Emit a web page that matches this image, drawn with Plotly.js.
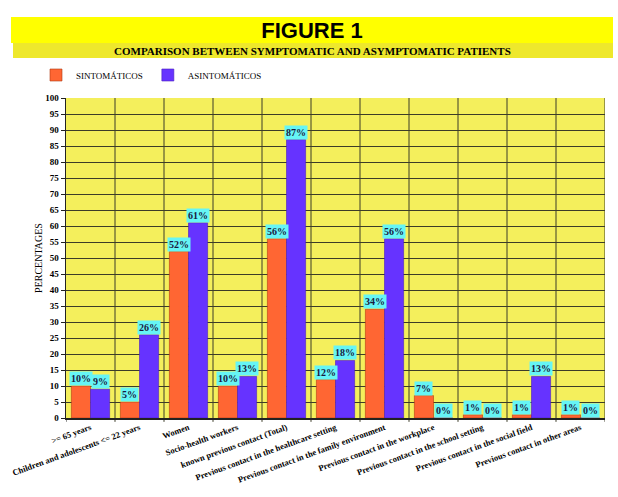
<!DOCTYPE html>
<html>
<head>
<meta charset="utf-8">
<script src="https://cdn.plot.ly/plotly-3.0.1.min.js"></script>
<style>html,body{margin:0;padding:0;background:#fff;}#chart{width:618px;height:497px;}</style>
</head>
<body>
<div id="chart"></div>
<script>
const categories = [
  ">= 65 years",
  "Children and adolescents <= 22 years",
  "Women",
  "Socio-health workers",
  "known previous contact (Total)",
  "Previous contact in the healthcare setting",
  "Previous contact in the family environment",
  "Previous contact in the workplace",
  "Previous contact in the school setting",
  "Previous contact in the social field",
  "Previous contact in other areas"
];
const sintomaticos = [10, 5, 52, 10, 56, 12, 34, 7, 1, 1, 1];
const asintomaticos = [9, 26, 61, 13, 87, 18, 56, 0, 0, 13, 0];
const seriesNames = ["SINTOMÁTICOS", "ASINTOMÁTICOS"];
const yTicks = [0,5,10,15,20,25,30,35,40,45,50,55,60,65,70,75,80,85,90,95,100];

const SERIF = "Liberation Serif, Times New Roman, serif";
const colors = ["#FF6633", "#6633FF"];
const bargap = 0.22;
const half = (1 - bargap) / 4;

const traces = [sintomaticos, asintomaticos].map((vals, k) => ({
  type: "bar",
  name: seriesNames[k],
  x: categories.map((c, i) => i),
  y: vals,
  marker: {color: colors[k], line: {color: k === 0 ? "#B03A10" : "#4A20C0", width: 0.6}},
  hoverinfo: "skip"
}));

const annotations = [];
[sintomaticos, asintomaticos].forEach((vals, k) => {
  vals.forEach((v, i) => {
    annotations.push({
      x: i + (k === 0 ? -half : half), y: v, xref: "x", yref: "y",
      text: "<b>" + v + "%</b>", showarrow: false, yanchor: "bottom", xanchor: "center",
      bgcolor: "#66F5F5", borderpad: 1,
      font: {family: SERIF, size: 10, color: "#1A1A40"}
    });
  });
});
annotations.push({
  x: (312 - 66) / 539, y: (418 - 50.5) / 320, xref: "paper", yref: "paper",
  text: "<b>COMPARISON BETWEEN SYMPTOMATIC AND ASYMPTOMATIC PATIENTS</b>",
  showarrow: false, xanchor: "center", yanchor: "middle",
  font: {family: SERIF, size: 11, color: "#000"}
});

const shapes = [
  {type: "rect", xref: "paper", yref: "paper", layer: "below",
   x0: (11 - 66) / 539, x1: (613 - 66) / 539, y0: (418 - 43) / 320, y1: (418 - 17) / 320,
   fillcolor: "#FFFF00", line: {width: 0}},
  {type: "rect", xref: "paper", yref: "paper", layer: "below",
   x0: (13 - 66) / 539, x1: (613 - 66) / 539, y0: (418 - 58) / 320, y1: (418 - 43) / 320,
   fillcolor: "#EEE82C", line: {width: 0}}
];

const layout = {
  width: 618, height: 497,
  margin: {l: 66, r: 13, t: 98, b: 79},
  paper_bgcolor: "#FFFFFF",
  plot_bgcolor: "#F4EF5C",
  barmode: "group",
  bargap: bargap,
  bargroupgap: 0,
  showlegend: true,
  title: {
    text: "<b>FIGURE 1</b>", x: 312 / 618, xanchor: "center", y: 1 - 30 / 497, yanchor: "middle",
    font: {family: "Liberation Sans, Arial, sans-serif", size: 22, color: "#000"}
  },
  legend: {
    orientation: "h", x: (36 - 66) / 539, xanchor: "left", y: (418 - 75) / 320, yanchor: "middle",
    font: {family: SERIF, size: 9, color: "#000"}, itemwidth: 30, bgcolor: "rgba(0,0,0,0)",
    traceorder: "normal"
  },
  xaxis: {
    type: "linear", range: [-0.5, 10.5],
    tickmode: "array", tickvals: categories.map((c, i) => i), ticktext: categories,
    tickangle: -20, showgrid: false,
    ticks: "", showline: true, linecolor: "#222", linewidth: 1.5,
    tickfont: {family: SERIF, size: 8.5, color: "#000", weight: "bold"},
    zeroline: false, fixedrange: true
  },
  yaxis: {
    range: [0, 100], tickmode: "array", tickvals: yTicks,
    ticks: "outside", ticklen: 4, tickcolor: "#222",
    showgrid: true, gridcolor: "#3C3C28", gridwidth: 1,
    showline: true, linecolor: "#222", linewidth: 1.5, mirror: false,
    tickfont: {family: SERIF, size: 9, color: "#000", weight: "bold"},
    title: {text: "PERCENTAGES", standoff: 0, font: {family: SERIF, size: 10, color: "#000"}},
    zeroline: false, fixedrange: true
  },
  annotations: annotations,
  shapes: shapes.concat(categories.map((c, i) => ({
    type: "line", xref: "x", yref: "paper", x0: i + 0.5, x1: i + 0.5, y0: -0.012, y1: 1,
    line: {color: "#3C3C28", width: 1}, layer: "below"
  }))).concat([{
    type: "line", xref: "x", yref: "paper", x0: -0.5, x1: -0.5, y0: -0.012, y1: 0,
    line: {color: "#222", width: 1}
  }])
};

Plotly.newPlot("chart", traces, layout, {displayModeBar: false, staticPlot: true});
</script>
</body>
</html>
